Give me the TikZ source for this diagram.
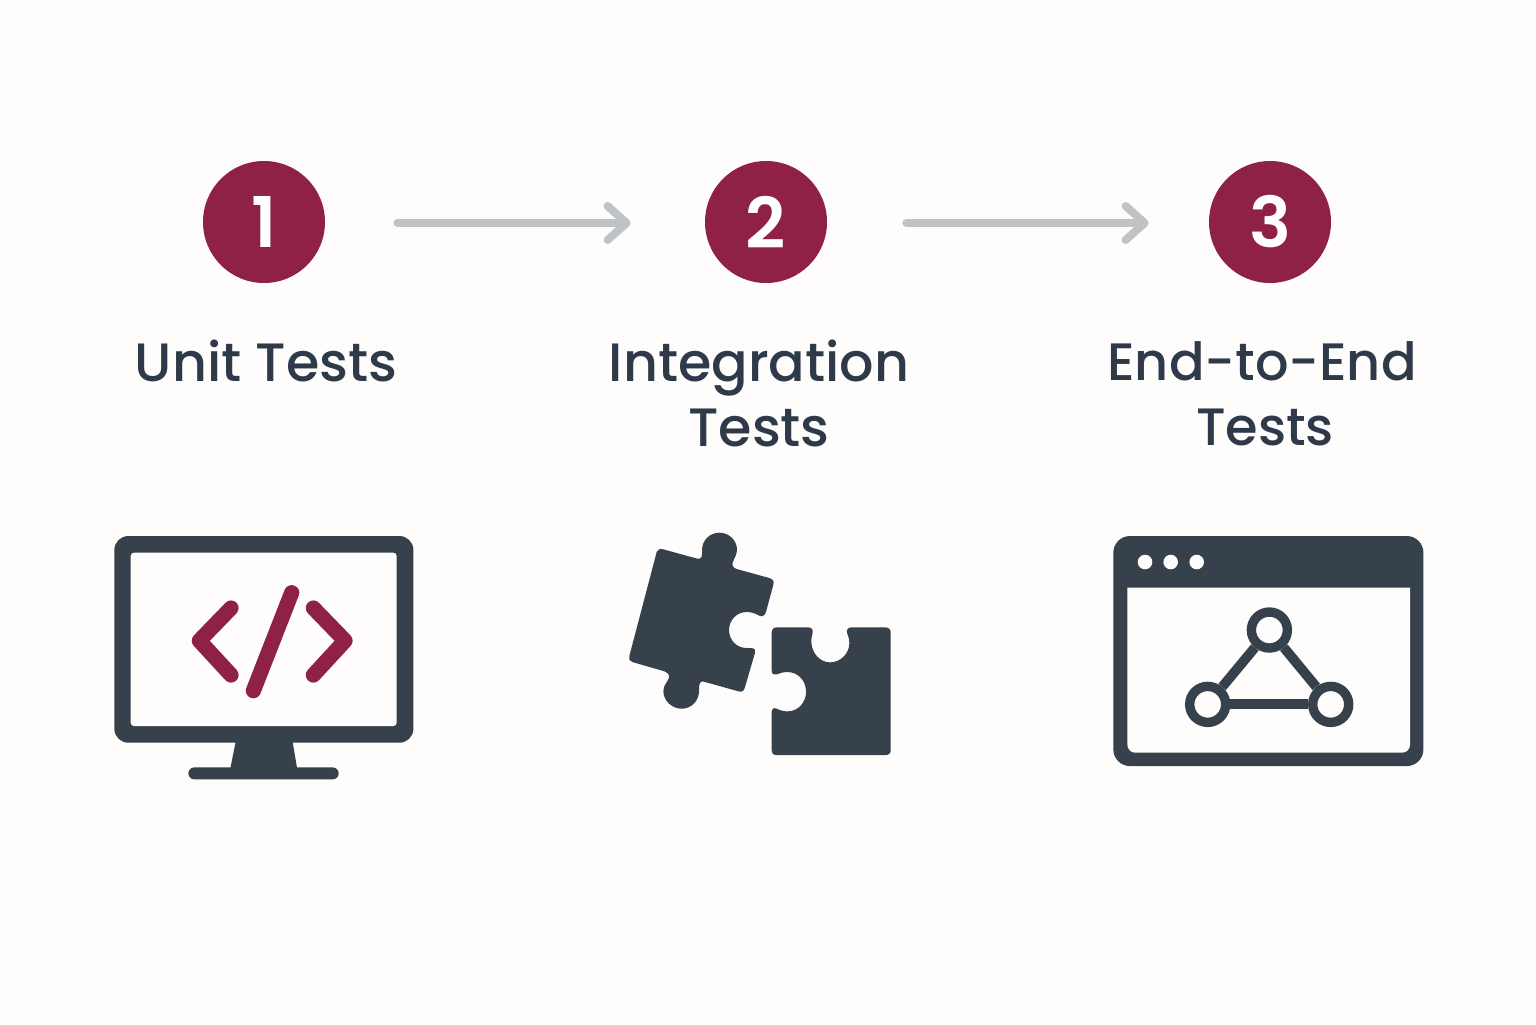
\documentclass[tikz,border=0pt]{standalone}
\usepackage{fontspec}
\setmainfont{Poppins}[UprightFont=* Medium,BoldFont=* SemiBold]
\usetikzlibrary{arrows.meta}
\definecolor{bgc}{HTML}{FEFDFB}
\definecolor{darkc}{HTML}{36414C}
\definecolor{maroonc}{HTML}{8F2149}
\definecolor{greyc}{HTML}{BFC3C6}
\definecolor{textc}{HTML}{2E3A4A}
\tikzset{
  numdot/.style={circle,fill=maroonc,minimum size=30.5pt*2,inner sep=0pt,text=white,font=\bfseries\fontsize{35}{35}\selectfont},
  steplabel/.style={text=textc,align=center,font=\fontsize{27}{32.5}\selectfont,inner sep=0pt,anchor=north},
  flow/.style={draw=greyc,line width=4pt,line cap=round,-{Straight Barb[length=9.5pt,width=17pt,line width=4pt,round]}},
  codeline/.style={draw=maroonc,line width=7.6pt,line cap=round,line join=round},
  gnode/.style={circle,draw=darkc,line width=4.7pt,fill=bgc,minimum size=18pt,inner sep=0pt},
  glink/.style={draw=darkc,line width=4.9pt},
  wdot/.style={circle,fill=bgc,minimum size=7.3pt,inner sep=0pt},
}
\begin{document}
\begin{tikzpicture}[x=0.5pt,y=-0.5pt]
\useasboundingbox (0,0) rectangle (1536,1024);
\fill[bgc] (0,0) rectangle (1536,1024);
% step circles
\node[numdot] (n1) at (264,222) {1};
\node[numdot] (n2) at (766,222) {2};
\node[numdot] (n3) at (1270,222) {3};
% arrows
\path ([yshift=-.5pt]n1.east) coordinate (a1s) ([yshift=-.5pt]n2.west) coordinate (a1e);
\path ([yshift=-.5pt]n2.east) coordinate (a2s) ([yshift=-.5pt]n3.west) coordinate (a2e);
\draw[flow,shorten <=36pt,shorten >=37pt] (a1s) -- (a1e);
\draw[flow,shorten <=39.5pt,shorten >=30pt] (a2s) -- (a2e);
% labels
\node[steplabel] (l1) at (266,339.5) {Unit Tests};
\node[steplabel] (l2) at (759,339.5) {Integration\\Tests};
\node[steplabel,font=\fontsize{26.3}{32.5}\selectfont] (l3) at (1262,341) {End-to-End\\\hspace*{3pt}Tests};
% monitor
\begin{scope}[shift={(100,520)},x=0.1667pt,y=-0.1667pt]
\fill[darkc,rounded corners=7pt] (43,48) rectangle (940,668);
\fill[bgc,rounded corners=1.7pt] (92,98) rectangle (890,618);
\fill[darkc] (408,660) -- (577,660) -- (592,750) -- (390,750) -- cycle;
\fill[darkc,rounded corners=3pt] (265,742) rectangle (716,778);
\draw[codeline] (393,264) -- (298,362) -- (393,465);
\draw[codeline] (575,218) -- (460,512);
\draw[codeline] (640,264) -- (735,362) -- (640,465);
\end{scope}
% puzzle
\begin{scope}[shift={(600,510)},x=0.1667pt,y=-0.1667pt]
\fill[darkc] (190,118) -- (292,146) .. controls (303,149) and (308,140) .. (306,120)
 .. controls (306,91) and (329,68) .. (358,68)
 .. controls (387,68) and (411,91) .. (411,120)
 .. controls (411,140) and (393,155) .. (398,167)
 .. controls (400,173) and (404,175) .. (410,177)
 -- (508,204) .. controls (518,207) and (523,214) .. (520,224)
 -- (498,305) .. controls (494,318) and (485,322) .. (476,316)
 .. controls (464,309) and (452,306) .. (440,306)
 .. controls (410,306) and (387,330) .. (387,360)
 .. controls (387,390) and (410,414) .. (440,414)
 -- (456,414) .. controls (464,414) and (468,420) .. (465,428)
 -- (434,534) .. controls (431,543) and (425,547) .. (416,544)
 -- (312,515) .. controls (301,512) and (296,518) .. (297,543)
 .. controls (297,572) and (274,596) .. (245,596)
 .. controls (216,596) and (190,572) .. (190,543)
 .. controls (190,525) and (205,512) .. (207,503)
 .. controls (208,492) and (202,487) .. (194,484)
 -- (97,456) .. controls (89,453) and (85,447) .. (88,438)
 -- (170,126) .. controls (172,119) and (180,115) .. (190,118) -- cycle;
\fill[darkc] (530,352) -- (624,352) .. controls (634,352) and (640,358) .. (638,368)
 .. controls (635,378) and (633,388) .. (634,398)
 .. controls (636,430) and (660,457) .. (690,457)
 .. controls (722,457) and (748,430) .. (748,398)
 .. controls (748,388) and (745,378) .. (741,368)
 .. controls (738,358) and (745,352) .. (755,352)
 -- (856,352) .. controls (866,352) and (872,358) .. (872,368)
 -- (872,720) .. controls (872,730) and (866,735) .. (856,735)
 -- (530,735) .. controls (520,735) and (515,730) .. (515,720)
 -- (515,606) .. controls (515,596) and (522,592) .. (530,596)
 .. controls (540,601) and (552,604) .. (562,604)
 .. controls (594,604) and (618,578) .. (618,545)
 .. controls (618,512) and (594,486) .. (562,486)
 .. controls (550,486) and (540,489) .. (530,493)
 .. controls (522,496) and (515,492) .. (515,482)
 -- (515,368) .. controls (515,358) and (520,352) .. (530,352) -- cycle;
\end{scope}
% browser
\begin{scope}[shift={(1090,520)},x=0.1667pt,y=-0.1667pt]
\fill[darkc,rounded corners=8.3pt] (70,48) rectangle (1000,738);
\fill[bgc] (112,203) [rounded corners=4pt] -- (112,698) -- (960,698) [sharp corners] -- (960,203) -- cycle;
\node[wdot] (d1) at (165,126) {};
\node[wdot] (d2) at (242,126) {};
\node[wdot] (d3) at (320,126) {};
\node[gnode] (g1) at (538,330) {};
\node[gnode] (g2) at (353,553) {};
\node[gnode] (g3) at (722,553) {};
\draw[glink] (g1) -- (g2);
\draw[glink] (g1) -- (g3);
\draw[glink] (g2) -- (g3);
\end{scope}
\end{tikzpicture}
\end{document}
